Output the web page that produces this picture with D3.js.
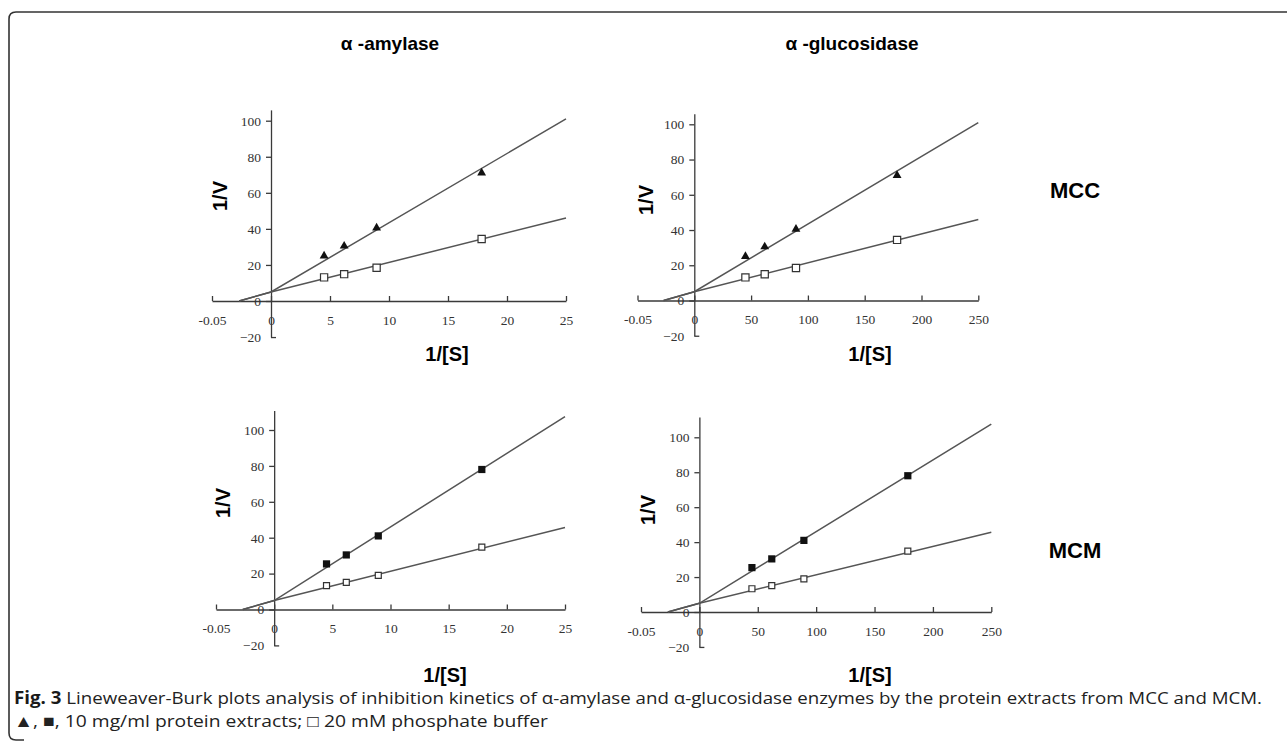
<!DOCTYPE html>
<html><head><meta charset="utf-8">
<script src="https://cdn.jsdelivr.net/npm/d3@7"></script>
<style>body{margin:0;background:#fff}svg{display:block}</style>
</head><body><svg id="c" width="1287" height="756"></svg>
<script>
// ---------- data ----------
const enzymes = ["α -amylase", "α -glucosidase"];
const extracts = ["MCC", "MCM"];
const amylaseX = [4.5, 6.2, 8.95, 17.85];
const glucosidaseX = [45, 62, 89.5, 178.5];
const mccInhibited = [25, 30.5, 40.5, 71];
const mccBuffer = [13.1, 14.9, 18.4, 34.4];
const mcmInhibited = [25.4, 30.4, 41, 78];
const mcmBuffer = [13.3, 15.1, 19, 34.8];
const amylaseFitX = [-2.7, 0, 25];
const glucosidaseFitX = [-27, 0, 250];
const mccInhibitedFit = [0, 5, 101];
const mccBufferFit = [0, 5, 46];
const mcmInhibitedFit = [0, 5, 107.5];
const mcmBufferFit = [0, 5, 45.7];
const amylaseTicks = [-5, 0, 5, 10, 15, 20, 25];
const amylaseTickLabels = ["-0.05", "0", "5", "10", "15", "20", "25"];
const glucosidaseTicks = [-50, 0, 50, 100, 150, 200, 250];
const glucosidaseTickLabels = ["-0.05", "0", "50", "100", "150", "200", "250"];
const yTicks = [-20, 0, 20, 40, 60, 80, 100];
const yAxisLabel = "1/V", xAxisLabel = "1/[S]";
const captionBold = "Fig. 3";
const captionLine1 = " Lineweaver-Burk plots analysis of inhibition kinetics of α-amylase and α-glucosidase enzymes by the protein extracts from MCC and MCM.";
const captionLine2 = "▲, ■, 10 mg/ml protein extracts; □ 20 mM phosphate buffer";

// ---------- layout ----------
const svg = d3.select("#c");
const axisCol = "#3a3a3a", lineCol = "#555";

svg.append("path")
  .attr("d", "M1290,12 L16,12 Q9,12 9,19 L9,733 Q9,740 16,740 L24,740")
  .attr("fill", "none").attr("stroke", "#333").attr("stroke-width", 1.6);

const panels = [
  {e:0, m:0, xs:amylaseX, inh:mccInhibited, buf:mccBuffer, fx:amylaseFitX, fi:mccInhibitedFit, fb:mccBufferFit,
   tv:amylaseTicks, tl:amylaseTickLabels, dom:[-5,25], xr:[212,566], y0:301, y100:120.7, yTop:106, mk:"tri",
   yl:[220,196], xl:[447,361]},
  {e:1, m:0, xs:glucosidaseX, inh:mccInhibited, buf:mccBuffer, fx:glucosidaseFitX, fi:mccInhibitedFit, fb:mccBufferFit,
   tv:glucosidaseTicks, tl:glucosidaseTickLabels, dom:[-50,250], xr:[637.5,978.3], y0:300.5, y100:124.3, yTop:106, mk:"tri",
   yl:[646,200], xl:[870,361]},
  {e:0, m:1, xs:amylaseX, inh:mcmInhibited, buf:mcmBuffer, fx:amylaseFitX, fi:mcmInhibitedFit, fb:mcmBufferFit,
   tv:amylaseTicks, tl:amylaseTickLabels, dom:[-5,25], xr:[216,565], y0:609.5, y100:430, yTop:110.8, mk:"sq",
   yl:[223,503], xl:[445,682]},
  {e:1, m:1, xs:glucosidaseX, inh:mcmInhibited, buf:mcmBuffer, fx:glucosidaseFitX, fi:mcmInhibitedFit, fb:mcmBufferFit,
   tv:glucosidaseTicks, tl:glucosidaseTickLabels, dom:[-50,250], xr:[641,991.3], y0:612, y100:437.3, yTop:111.6, mk:"sq",
   yl:[648,510], xl:[870,682]}
];

panels.forEach(p => {
  const g = svg.append("g");
  const x = d3.scaleLinear().domain(p.dom).range(p.xr);
  const yl = d3.scaleLinear().domain([0, 100]).range([p.y0, p.y100]);
  const y = d3.scaleLinear().domain([-20, p.yTop]).range([yl(-20), yl(p.yTop)]);

  const xa = g.append("g").attr("transform", `translate(0,${y(0)})`)
    .call(d3.axisBottom(x).tickValues(p.tv).tickFormat((d, i) => p.tl[i])
      .tickSizeInner(-5).tickSizeOuter(0).tickPadding(14));
  const ya = g.append("g").attr("transform", `translate(${x(0)},0)`)
    .call(d3.axisLeft(y).tickValues(yTicks).tickSizeInner(5).tickSizeOuter(0).tickPadding(5));
  ya.selectAll(".tick").filter(d => d === -20).select("line").attr("x2", 5);
  [xa, ya].forEach(a => {
    a.selectAll("path,line").attr("stroke", axisCol).attr("stroke-width", 1.3);
    a.selectAll("text").attr("fill", "#333").style("font-family", "'Liberation Serif', serif").style("font-size", "13.5px");
  });

  const line = d3.line().x(d => x(d[0])).y(d => y(d[1]));
  [p.fb, p.fi].forEach(fy => {
    g.append("path").datum(p.fx.map((v, i) => [v, fy[i]])).attr("d", line)
      .attr("fill", "none").attr("stroke", lineCol).attr("stroke-width", 1.5);
  });

  const bufSize = p.mk === "tri" ? 52 : 36;
  g.selectAll(".buf").data(p.xs).join("path")
    .attr("transform", (d, i) => `translate(${x(d)},${y(p.buf[i])})`)
    .attr("d", d3.symbol(d3.symbolSquare, bufSize))
    .attr("fill", "#fff").attr("stroke", "#333").attr("stroke-width", 1.2);
  g.selectAll(".inh").data(p.xs).join("path")
    .attr("transform", (d, i) => `translate(${x(d)},${y(p.inh[i])})`)
    .attr("d", d3.symbol(p.mk === "tri" ? d3.symbolTriangle : d3.symbolSquare, p.mk === "tri" ? 34 : 52))
    .attr("fill", "#111");

  g.append("text").attr("transform", `translate(${p.yl[0]},${p.yl[1]}) rotate(-90)`)
    .attr("text-anchor", "middle").attr("dy", "0.35em")
    .style("font-family", "'Liberation Sans', Arial, sans-serif").style("font-weight", "bold").style("font-size", "20px")
    .text(yAxisLabel);
  g.append("text").attr("x", p.xl[0]).attr("y", p.xl[1]).attr("text-anchor", "middle")
    .style("font-family", "'Liberation Sans', Arial, sans-serif").style("font-weight", "bold").style("font-size", "20px")
    .text(xAxisLabel);
});

const headX = [390, 852];
enzymes.forEach((t, i) => {
  svg.append("text").attr("x", headX[i]).attr("y", 50).attr("text-anchor", "middle")
    .style("font-family", "'Liberation Sans', Arial, sans-serif").style("font-weight", "bold").style("font-size", "19px")
    .text(t);
});
const rowY = [198, 558];
extracts.forEach((t, i) => {
  svg.append("text").attr("x", 1075).attr("y", rowY[i]).attr("text-anchor", "middle")
    .style("font-family", "'Liberation Sans', Arial, sans-serif").style("font-weight", "bold").style("font-size", "22px")
    .text(t);
});

const cap = svg.append("text").attr("x", 14).attr("y", 704)
  .style("font-family", "'Open Sans', sans-serif").style("font-size", "17px").attr("fill", "#222")
  .attr("textLength", 1248).attr("lengthAdjust", "spacingAndGlyphs");
cap.append("tspan").style("font-weight", "bold").attr("fill", "#1a1a1a").text(captionBold);
cap.append("tspan").text(captionLine1);
svg.append("text").attr("x", 14).attr("y", 727)
  .style("font-family", "'Open Sans', sans-serif").style("font-size", "17px").attr("fill", "#222")
  .attr("textLength", 534).attr("lengthAdjust", "spacingAndGlyphs")
  .text(captionLine2);
</script>
</body></html>
